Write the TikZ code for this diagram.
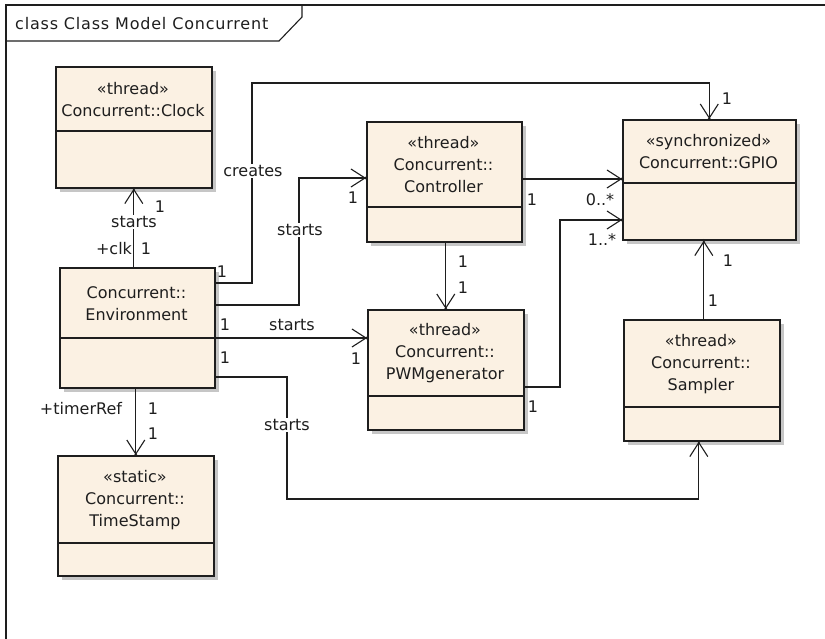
\documentclass[tikz,border=0pt]{standalone}
\usepackage{fontspec}
\setmainfont{DejaVu Sans}
\usetikzlibrary{arrows.meta}

\definecolor{classfill}{RGB}{251,241,227}
\definecolor{shadowgray}{RGB}{198,198,198}
\definecolor{ink}{RGB}{30,30,30}

\tikzset{
  classbox/.style={draw=ink, line width=1.6pt, fill=classfill, inner sep=0pt},
  classtext/.style={align=center, font=\fontsize{16}{22}\selectfont, inner sep=0pt, text=ink},
  lbl/.style={font=\fontsize{16}{18}\selectfont, inner sep=1pt, text=ink},
  onlinelbl/.style={lbl, fill=white},
  assoc/.style={line width=1.1pt, draw=ink, -{Straight Barb[length=14pt,width=18pt,line width=1.1pt]}},
  plainline/.style={line width=1.1pt, draw=ink},
  tipdot/.style={fill=ink},
}

% \umlclass{name}{left}{top}{right}{bottom}{divider y}{header text}
\newcommand\umlclass[7]{%
  \fill[shadowgray] ({#2+5},{#3+5}) rectangle ({#4+5},{#5+5});
  \node[classbox, anchor=north west,
        minimum width={(#4-#2)*1pt}, minimum height={(#5-#3)*1pt}]
        (#1) at (#2,#3) {};
  \draw[ink, line width=1.6pt] (#1.west |- 0,#6) -- (#1.east |- 0,#6);
  \node[classtext] (#1-name) at ({(#2+#4)/2},{(#3+#6)/2+1}) {#7};
}

\begin{document}
\begin{tikzpicture}[x=1pt, y=-1pt]
\useasboundingbox (0,0) rectangle (825,639);

% diagram frame with its name tab
\draw[plainline] (6,660) -- (6,5) -- (840,5);
\draw[plainline] (6,41) -- (279,41) -- (302,17) -- (302,5);
\node[lbl, anchor=west] (frametitle) at (14,24)
  {\addfontfeature{LetterSpace=5}class Class Model Concurrent};

% classes
\umlclass{clock}{55}{66}{211}{187}{131}{«thread»\\Concurrent::Clock}
\umlclass{ctrl}{366}{121}{521}{241}{207}{«thread»\\Concurrent::\\Controller}
\umlclass{gpio}{622}{119}{795}{239}{183}{«synchronized»\\Concurrent::GPIO}
\umlclass{env}{59}{267}{214}{387}{338}{Concurrent::\\Environment}
\umlclass{pwm}{367}{309}{523}{429}{396}{«thread»\\Concurrent::\\PWMgenerator}
\umlclass{sampler}{623}{319}{779}{440}{407}{«thread»\\Concurrent::\\Sampler}
\umlclass{ts}{57}{455}{213}{575}{543}{«static»\\Concurrent::\\TimeStamp}

% bend points and ends of the routed associations
\coordinate (kcreates) at (252,83);
\coordinate (kctrl) at (299,178);
\coordinate (ksampler) at (287,499);
\coordinate (kpwm) at (560,220);
\coordinate (ctrlin) at (ctrl.west |- kctrl);
\coordinate (pwmin) at (pwm.west |- 0,338);
\coordinate (samplerin) at ([xshift=-3pt]sampler.south);
\coordinate (gpioctrl) at (gpio.west |- 0,179);
\coordinate (gpiopwm) at (gpio.west |- kpwm);
\coordinate (gpiosampler) at ([xshift=2pt]sampler.north |- gpio.south);

% associations
\draw[assoc] (clock.south |- env.north) -- (clock.south);
\draw[assoc] (ts.north |- env.south) -- (ts.north);
\draw[assoc] (env.east |- 0,283) -| (kcreates) -| (gpio.north);
\draw[assoc] (env.east |- 0,305) -| (kctrl) -- (ctrlin);
\draw[assoc] (env.east |- 0,338) -- (pwmin);
\draw[assoc] (env.east |- 0,377) -| (ksampler) -| (samplerin);
\draw[assoc] (ctrl.east |- 0,179) -- (gpioctrl);
\draw[assoc] (ctrl.south -| pwm.north) -- (pwm.north);
\draw[assoc] (pwm.east |- 0,387) -| (kpwm) -- (gpiopwm);
\draw[assoc] ([xshift=2pt]sampler.north) -- (gpiosampler);

% small dots at the navigable ends
\foreach \p in {clock.south, ts.north, gpio.north, ctrlin, pwmin, samplerin,
                gpioctrl, pwm.north, gpiopwm, gpiosampler}
  \fill[tipdot] (\p) circle (1.6);

% association labels and multiplicities
\node[onlinelbl] (clkstarts) at (134,222) {starts};
\node[lbl] (clkmulta) at (160,207) {1};
\node[lbl] (clkrole) at (114,249) {+clk};
\node[lbl] (clkmultb) at (146,249) {1};

\node[onlinelbl] (creates) at (253,171) {creates};
\node[lbl] (crmulta) at (222,272) {1};
\node[lbl] (crmultb) at (727,99) {1};

\node[onlinelbl] (ctrlstarts) at (300,230) {starts};
\node[lbl] (ctmult) at (353,198) {1};

\node[lbl] (pwmulta) at (225,325) {1};
\node[lbl] (pwstarts) at (292,325) {starts};
\node[lbl] (pwmultb) at (356,359) {1};

\node[lbl] (samulta) at (225,358) {1};
\node[onlinelbl] (sastarts) at (287,425) {starts};

\node[lbl] (timerrole) at (81,409) {+timerRef};
\node[lbl] (tsmulta) at (153,409) {1};
\node[lbl] (tsmultb) at (153,434) {1};

\node[lbl] (cgmulta) at (532,200) {1};
\node[lbl] (cgmultb) at (600,200) {0..*};

\node[lbl] (cpmulta) at (463,262) {1};
\node[lbl] (cpmultb) at (463,288) {1};

\node[lbl] (pgmulta) at (533,407) {1};
\node[lbl] (pgmultb) at (602,240) {1..*};

\node[lbl] (sgmulta) at (713,301) {1};
\node[lbl] (sgmultb) at (728,261) {1};
\end{tikzpicture}
\end{document}
